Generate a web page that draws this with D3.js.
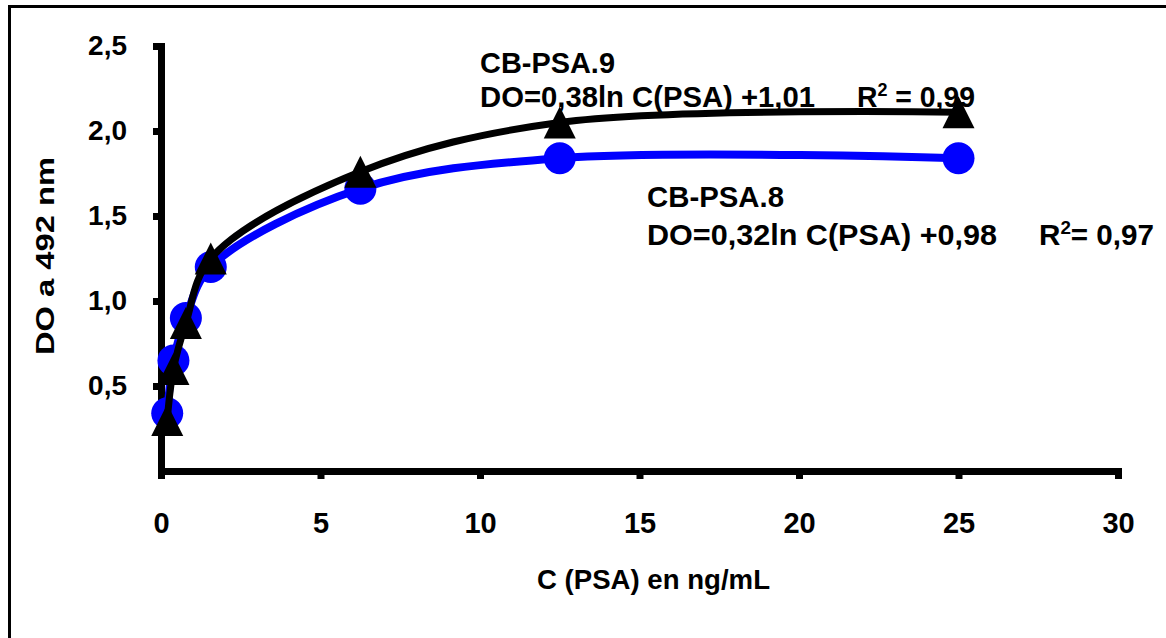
<!DOCTYPE html>
<html>
<head>
<meta charset="utf-8">
<script src="https://cdn.jsdelivr.net/npm/d3@7"></script>
<style>
    body { margin: 0; background: #fff; }
    svg { display: block; font-family: "Liberation Sans", Arial, sans-serif; font-weight: bold; }
</style>
</head>
<body>
<svg id="chart" width="1166" height="638"></svg>
<script>
// concentration series (ng/mL)
const concentrations = [0.195, 0.39, 0.78, 1.56, 6.25, 12.5, 25]
const psa8Values = [0.34, 0.65, 0.90, 1.20, 1.66, 1.84, 1.84]
const psa9Values = [0.30, 0.60, 0.87, 1.25, 1.76, 2.05, 2.11]
const xTicks = [0, 5, 10, 15, 20, 25, 30]
const yTicks = [0.5, 1.0, 1.5, 2.0, 2.5]

const svg = d3.select('#chart')

// outer frame
svg.append('rect')
    .attr('x', 9.5).attr('y', 6.5)
    .attr('width', 1300).attr('height', 800)
    .attr('fill', 'none')
    .attr('stroke', '#000')
    .attr('stroke-width', 3)

const x = d3.scaleLinear().domain([0, 30]).range([161, 1118])
const y = d3.scaleLinear().domain([0, 2.5]).range([471, 46])

const commaFmt = (d) => d3.format('.1f')(d).replace('.', ',')

const styleAxis = (g) => {
    g.select('.domain')
        .attr('stroke-width', 7)
        .attr('stroke-linecap', 'square')
    g.selectAll('.tick line')
        .attr('stroke-width', 7)
    g.selectAll('.tick text')
        .attr('fill', '#000')
        .attr('font-family', '"Liberation Sans", Arial, sans-serif')
        .attr('font-weight', 'bold')
}

svg.append('g')
    .attr('transform', 'translate(0,471)')
    .call(d3.axisBottom(x).tickValues(xTicks).tickSize(8).tickSizeOuter(0).tickPadding(33))
    .call(styleAxis)
    .selectAll('.tick text').attr('font-size', 29)

svg.append('g')
    .attr('transform', 'translate(161,0)')
    .call(d3.axisLeft(y).tickValues(yTicks).tickFormat(commaFmt).tickSize(8).tickSizeOuter(0).tickPadding(26))
    .call(styleAxis)
    .selectAll('.tick text').attr('font-size', 28)

// axis titles
svg.append('text')
    .attr('x', 537).attr('y', 589)
    .attr('font-size', 28)
    .attr('textLength', 233)
    .attr('lengthAdjust', 'spacingAndGlyphs')
    .text('C (PSA) en ng/mL')

svg.append('text')
    .attr('transform', 'translate(54,256) rotate(-90)')
    .attr('text-anchor', 'middle')
    .attr('font-size', 26)
    .attr('textLength', 198)
    .attr('lengthAdjust', 'spacingAndGlyphs')
    .text('DO a 492 nm')

const line = d3.line()
    .x((d) => x(d[0]))
    .y((d) => y(d[1]))
    .curve(d3.curveCatmullRom.alpha(0.5))

const psa8 = d3.zip(concentrations, psa8Values)
const psa9 = d3.zip(concentrations, psa9Values)

// CB-PSA.8 (blue, circles)
svg.append('path')
    .datum(psa8)
    .attr('d', line)
    .attr('fill', 'none')
    .attr('stroke', '#0000ff')
    .attr('stroke-width', 8)

svg.append('g').selectAll('circle')
    .data(psa8)
    .enter().append('circle')
    .attr('cx', (d) => x(d[0]))
    .attr('cy', (d) => y(d[1]))
    .attr('r', 16)
    .attr('fill', '#0000ff')

// CB-PSA.9 (black, triangles)
svg.append('path')
    .datum(psa9)
    .attr('d', line)
    .attr('fill', 'none')
    .attr('stroke', '#000')
    .attr('stroke-width', 7)

const TRI_W = 32
const TRI_H = 32
svg.append('g').selectAll('path')
    .data(psa9)
    .enter().append('path')
    .attr('transform', (d) => 'translate(' + x(d[0]) + ',' + y(d[1]) + ')')
    .attr('d', 'M0,' + (-TRI_H / 2) + 'L' + (TRI_W / 2) + ',' + (TRI_H / 2) + 'L' + (-TRI_W / 2) + ',' + (TRI_H / 2) + 'Z')
    .attr('fill', '#000')

// equation labels
const addLabel = (px, py, width, parts) => {
    let t = svg.append('text')
        .attr('x', px).attr('y', py)
        .attr('font-size', 30)
        .attr('textLength', width)
        .attr('lengthAdjust', 'spacingAndGlyphs')
    parts.forEach((p) => {
        if (p.sup) {
            t.append('tspan').attr('font-size', 19).attr('dy', -11).text(p.text)
        } else {
            t.append('tspan').attr('dy', p.reset ? 11 : 0).text(p.text)
        }
    })
}

addLabel(480, 73, 135, [{ text: 'CB-PSA.9' }])
addLabel(480, 107, 335, [{ text: 'DO=0,38ln C(PSA) +1,01' }])
addLabel(857, 107, 118, [{ text: 'R' }, { text: '2', sup: true }, { text: ' = 0,99', reset: true }])

addLabel(647, 207, 137, [{ text: 'CB-PSA.8' }])
addLabel(647, 245, 350, [{ text: 'DO=0,32ln  C(PSA) +0,98' }])
addLabel(1039, 245, 115, [{ text: 'R' }, { text: '2', sup: true }, { text: '= 0,97', reset: true }])
</script>
</body>
</html>
